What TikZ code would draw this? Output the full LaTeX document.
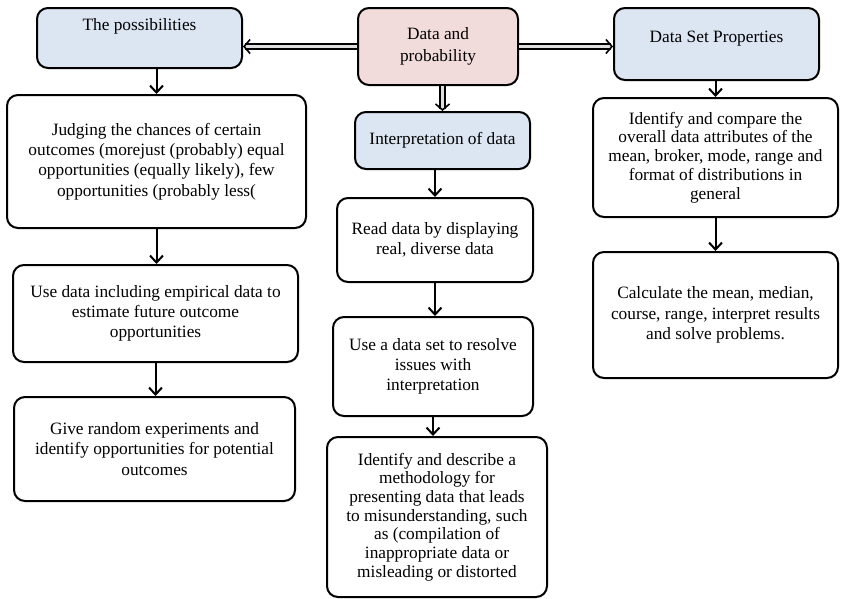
\documentclass[tikz,border=0pt]{standalone}
\usepackage{fontspec}
\setmainfont{Liberation Serif}
\usetikzlibrary{arrows.meta}
\definecolor{lblue}{HTML}{DCE6F2}
\definecolor{lpink}{HTML}{F2DCDB}
\begin{document}
\begin{tikzpicture}[x=1pt,y=-1pt,
  box/.style={draw=black, line width=2pt, rounded corners=11pt, align=center,
    inner sep=0pt, font=\fontsize{17.3}{20.3}\selectfont},
  bluebox/.style={box, fill=lblue},
  arr/.style={line width=2pt, -{Straight Barb[length=7pt,width=13pt,line width=2pt]}},
  dbl/.style={double=gray!25, double distance=3.5pt, line width=1.6pt,
    -{Straight Barb[length=6pt,width=14pt,line width=1.6pt]}}]
\useasboundingbox (0,0) rectangle (842,598);
% top row
\node[bluebox, minimum width=205pt, minimum height=60pt, text height=12pt, text depth=27pt] (poss) at (139.5,38) {The possibilities};
\node[box, fill=lpink, minimum width=160pt, minimum height=77pt, font=\fontsize{17.3}{22}\selectfont] (dp) at (438,46.5) {Data and\\probability};
\node[bluebox, minimum width=205pt, minimum height=72pt, text height=12pt, text depth=15pt] (dsp) at (716.5,44) {Data Set Properties};
% left column
\node[box, minimum width=299pt, minimum height=133pt] (judge) at (156.5,161.5) {Judging the chances of certain\\outcomes (morejust (probably) equal\\opportunities (equally likely), few\\opportunities (probably less(};
\node[box, minimum width=285pt, minimum height=97pt] (usedata) at (155.5,313.5) {Use data including empirical data to\\estimate future outcome\\opportunities};
\node[box, minimum width=281pt, minimum height=104pt] (give) at (154.5,449) {Give random experiments and\\identify opportunities for potential\\outcomes};
% middle column
\node[bluebox, minimum width=175pt, minimum height=57pt] (interp) at (442.5,140.5) {Interpretation of data};
\node[box, minimum width=196pt, minimum height=84pt] (read) at (435,240) {Read data by displaying\\real, diverse data};
\node[box, minimum width=200pt, minimum height=99pt] (useset) at (433,366.5) {Use a data set to resolve\\issues with\\interpretation};
\node[box, minimum width=220pt, minimum height=160pt, font=\fontsize{17.3}{18.7}\selectfont] (idesc) at (437,517) {Identify and describe a\\methodology for\\presenting data that leads\\to misunderstanding, such\\as (compilation of\\inappropriate data or\\misleading or distorted};
% right column
\node[box, minimum width=245pt, minimum height=119pt, font=\fontsize{17.3}{18.8}\selectfont] (icomp) at (715.5,157.5) {Identify and compare the\\overall data attributes of the\\mean, broker, mode, range and\\format of distributions in\\general};
\node[box, minimum width=245pt, minimum height=126pt] (calc) at (715.5,315) {Calculate the mean, median,\\course, range, interpret results\\and solve problems.};
% double arrows
\draw[dbl] (dp.west) -- (dp.west -| poss.east);
\draw[dbl] (dp.east) -- (dp.east -| dsp.west);
\draw[dbl] (interp.north |- dp.south) -- (interp.north);
% single arrows
\draw[arr] (judge.north |- poss.south) -- (judge.north);
\draw[arr] (judge.south) -- (usedata.north -| judge.south);
\draw[arr] (usedata.south) -- (give.north -| usedata.south);
\draw[arr] (read.north |- interp.south) -- (read.north);
\draw[arr] (read.south) -- (useset.north -| read.south);
\draw[arr] (useset.south) -- (idesc.north -| useset.south);
\draw[arr] (icomp.north |- dsp.south) -- (icomp.north);
\draw[arr] (icomp.south) -- (calc.north -| icomp.south);
\end{tikzpicture}
\end{document}
